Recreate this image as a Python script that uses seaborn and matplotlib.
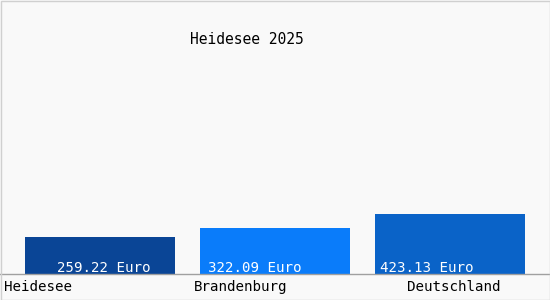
import matplotlib
matplotlib.use("Agg")
import matplotlib.pyplot as plt
import seaborn as sns
import pandas as pd
from matplotlib.patches import Rectangle

categories = ["Heidesee", "Brandenburg", "Deutschland"]
values = [259.22, 322.09, 423.13]
value_labels = ["259.22 Euro", "322.09 Euro", "423.13 Euro"]
colors = ["#0a4596", "#0a7cfa", "#0a63c8"]
title = "Heidesee 2025"

df = pd.DataFrame({"cat": categories, "val": values})

sns.set_theme(style="white")
plt.rcParams["font.family"] = ["DejaVu Sans Mono"]

W, H = 550, 300
fig = plt.figure(figsize=(5.5, 3.0), dpi=100, facecolor="#f9f9f9")
# axes: full width, from top to baseline at y=274 px
ax = fig.add_axes([0, 26 / H, 1, 274 / H])
ax.set_facecolor("#f9f9f9")

sns.barplot(data=df, x="cat", y="val", hue="cat", palette=colors,
            width=150 / 175, legend=False, ax=ax, saturation=1,
            linewidth=0)

ax.set_xlim(-100 / 175, 2 + 100 / 175)
ax.set_ylim(0, 274 * 7.02)
ax.set_xlabel("")
ax.set_ylabel("")
ax.set_xticks([])
ax.set_yticks([])
for s in ["top", "right", "left"]:
    ax.spines[s].set_visible(False)
ax.spines["bottom"].set_color("#a0a0a0")
ax.spines["bottom"].set_linewidth(1.0)

fw = "medium"
# value labels inside bars (left edges in px)
label_left_px = [57, 208, 380]
for i, (lab, lpx) in enumerate(zip(value_labels, label_left_px)):
    xd = (lpx - 100) / 175
    ax.text(xd, 5.5 * 7.02, lab, ha="left", va="center", color="white",
            fontsize=10.2, fontweight=fw)

# category labels below
fig.text(4 / W, 1 - 287 / H, categories[0], ha="left", va="center", fontsize=10.2, color="black", fontweight=fw)
fig.text(241 / W, 1 - 287 / H, categories[1], ha="center", va="center", fontsize=10.2, color="black", fontweight=fw)
fig.text(501 / W, 1 - 287 / H, categories[2], ha="right", va="center", fontsize=10.2, color="black", fontweight=fw)

fig.text(247 / W, 1 - 39 / H, title, ha="center", va="center", fontsize=10.5, color="black", fontweight=fw)

# figure border
fig.patches.append(Rectangle((0.5 / W, 0.5 / H), 1 - 1 / W, 1 - 1 / H,
                             transform=fig.transFigure, fill=False,
                             edgecolor="#d0d0d0", linewidth=1.0))

fig.savefig("out.png", dpi=100, facecolor=fig.get_facecolor())
